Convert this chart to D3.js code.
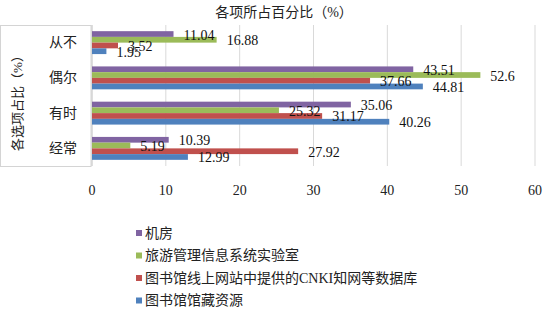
<!DOCTYPE html>
<html><head><meta charset="utf-8">
<script src="https://cdn.jsdelivr.net/npm/d3@7"></script>
<style>body{margin:0;background:#fff}svg{display:block}</style>
</head><body>
<script>
const categories = ["从不", "偶尔", "有时", "经常"];
const seriesNames = ["机房", "旅游管理信息系统实验室", "图书馆线上网站中提供的CNKI知网等数据库", "图书馆馆藏资源"];
const jifang = [11.04, 43.51, 35.06, 10.39];
const lvyou = [16.88, 52.6, 25.32, 5.19];
const cnki = [3.52, 37.66, 31.17, 27.92];
const guancang = [1.95, 44.81, 40.26, 12.99];
const xTicks = [0, 10, 20, 30, 40, 50, 60];
const colors = ["#8064A2", "#9BBB59", "#C0504D", "#4F81BD"];
const seriesValues = [jifang, lvyou, cnki, guancang];

(function () {
const W = 543, H = 310;
const font = "'Liberation Serif','Times New Roman','Noto Sans CJK SC',serif";
const svg = d3.select("body").append("svg").attr("width", W).attr("height", H)
  .style("font-family", font);

const plotTop = 25, plotBottom = 166;
const x = d3.scaleLinear().domain([0, 60]).range([92, 535]);
const y = d3.scaleBand().domain(categories).range([plotTop, plotBottom]).paddingInner(0.35).paddingOuter(0.175);
const ys = d3.scaleBand().domain(seriesNames).range([0, y.bandwidth()]);

// title
svg.append("text").attr("x", 284).attr("y", 12).attr("text-anchor", "middle")
  .attr("dominant-baseline", "central").attr("font-size", 14).attr("fill", "#222")
  .text("各项所占百分比（%）");

// gridlines
svg.append("g").selectAll("line").data(xTicks).join("line")
  .attr("x1", d => x(d)).attr("x2", d => x(d)).attr("y1", plotTop).attr("y2", plotBottom)
  .attr("stroke", "#d9d9d9").attr("stroke-width", 1);

// left box
svg.append("rect").attr("x", 0.5).attr("y", plotTop + 0.5).attr("width", 90.5).attr("height", plotBottom - plotTop)
  .attr("fill", "#fff").attr("stroke", "#d4d4d4");

// y title
svg.append("text").attr("transform", "translate(17,100) rotate(-90)")
  .attr("text-anchor", "middle").attr("dominant-baseline", "central")
  .attr("font-size", 13).attr("fill", "#222").text("各选项占比（%）");

// category labels
svg.append("g").selectAll("text").data(categories).join("text")
  .attr("x", 77).attr("y", d => y(d) + y.bandwidth() / 2)
  .attr("text-anchor", "end").attr("dominant-baseline", "central")
  .attr("font-size", 14).attr("fill", "#222").text(d => d);

// axis line at 0
svg.append("line").attr("x1", x(0)).attr("x2", x(0)).attr("y1", plotTop).attr("y2", plotBottom)
  .attr("stroke", "#d0d0d0");

// x tick labels
svg.append("g").selectAll("text").data(xTicks).join("text")
  .attr("x", d => x(d)).attr("y", 190).attr("text-anchor", "middle")
  .attr("dominant-baseline", "central").attr("font-size", 14).attr("fill", "#222")
  .text(d => d);

// bars
seriesNames.forEach((s, si) => {
  svg.append("g").selectAll("rect").data(categories).join("rect")
    .attr("x", x(0)).attr("y", (c) => y(c) + ys(s))
    .attr("width", (c, i) => x(seriesValues[si][i]) - x(0))
    .attr("height", ys.bandwidth())
    .attr("fill", colors[si]);
});
// value labels
seriesNames.forEach((s, si) => {
  svg.append("g").selectAll("text").data(categories).join("text")
    .attr("x", (c, i) => x(seriesValues[si][i]) + 10)
    .attr("y", c => y(c) + ys(s) + ys.bandwidth() / 2 + 1)
    .attr("dominant-baseline", "central").attr("font-size", 14).attr("fill", "#111")
    .text((c, i) => seriesValues[si][i]);
});

// legend
const legY = [233, 255.5, 278, 300.5];
const leg = svg.append("g").selectAll("g").data(seriesNames).join("g")
  .attr("transform", (d, i) => `translate(136,${legY[i]})`);
leg.append("rect").attr("x", 0).attr("y", -3).attr("width", 6).attr("height", 6)
  .attr("fill", (d, i) => colors[i]);
leg.append("text").attr("x", 9).attr("y", 0).attr("dominant-baseline", "central")
  .attr("font-size", 14).attr("fill", "#222").text(d => d);
})();
</script>
</body></html>
